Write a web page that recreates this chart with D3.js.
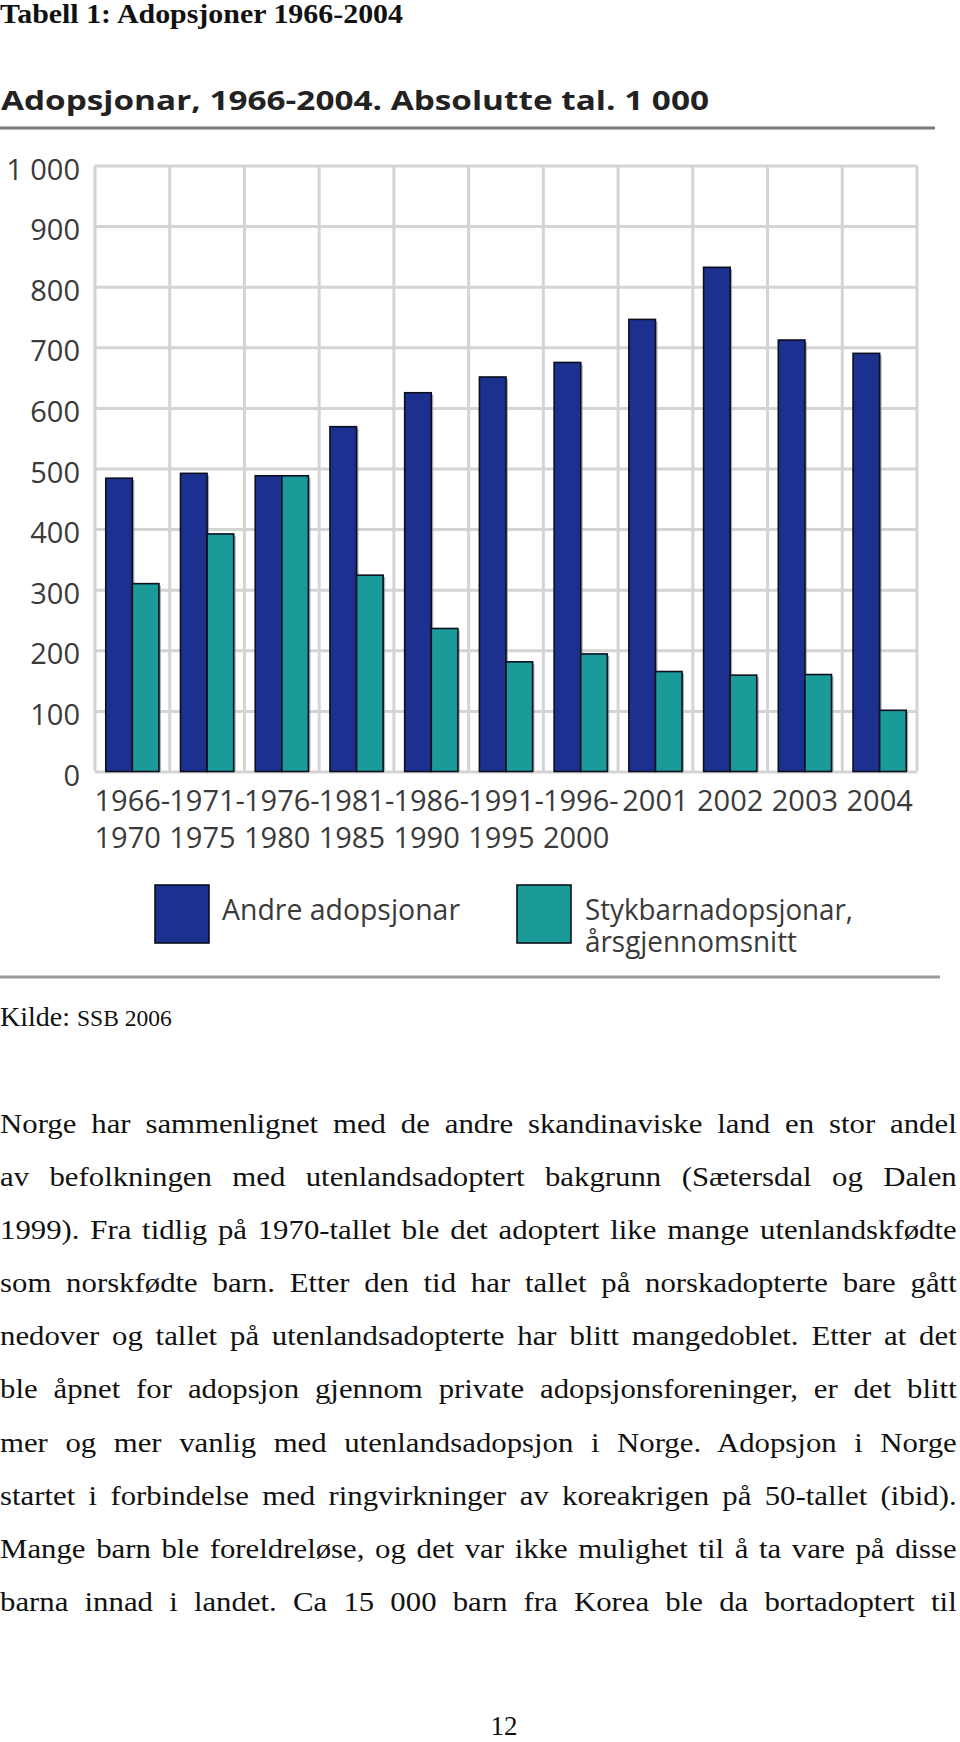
<!DOCTYPE html>
<html>
<head>
<meta charset="utf-8">
<script src="https://cdn.jsdelivr.net/npm/d3@7"></script>
<style>
  html, body { margin: 0; padding: 0; background: #fff; }
  svg { display: block; }
</style>
</head>
<body>
<svg id="page" width="960" height="1742"></svg>
<script>
// ---- Data ----
const categories = ["1966-1970","1971-1975","1976-1980","1981-1985","1986-1990","1991-1995","1996-2000","2001","2002","2003","2004"];
const seriesNames = ["Andre adopsjonar", "Stykbarnadopsjonar, årsgjennomsnitt"];
const andreAdopsjonar = [484, 492, 488, 569, 625, 651, 675, 746, 832, 712, 690];
const stykbarnAdopsjonar = [310, 392, 488, 324, 236, 181, 194, 165, 159, 160, 101];
const yTicks = [0, 100, 200, 300, 400, 500, 600, 700, 800, 900, 1000];
const yTickLabels = ["0","100","200","300","400","500","600","700","800","900","1 000"];

const pageTitle = "Tabell 1: Adopsjoner 1966-2004";
const chartTitle = "Adopsjonar, 1966-2004. Absolutte tal. 1 000";
const paragraph = [
  "Norge har sammenlignet med de andre skandinaviske land en stor andel",
  "av befolkningen med utenlandsadoptert bakgrunn (Sætersdal og Dalen",
  "1999). Fra tidlig på 1970-tallet ble det adoptert like mange utenlandskfødte",
  "som norskfødte barn. Etter den tid har tallet på norskadopterte bare gått",
  "nedover og tallet på utenlandsadopterte har blitt mangedoblet. Etter at det",
  "ble åpnet for adopsjon gjennom private adopsjonsforeninger, er det blitt",
  "mer og mer vanlig med utenlandsadopsjon i Norge. Adopsjon i Norge",
  "startet i forbindelse med ringvirkninger av koreakrigen på 50-tallet (ibid).",
  "Mange barn ble foreldreløse, og det var ikke mulighet til å ta vare på disse",
  "barna innad i landet. Ca 15 000 barn fra Korea ble da bortadoptert til"
];

// ---- Layout ----
const svg = d3.select("#page");
const colors = ["#1c318f", "#1a9a98"];
const plot = {left: 95, right: 917, top: 165.5, bottom: 771.5};
const sansFont = "'Open Sans', 'Noto Sans', sans-serif";
const serifFont = "'Liberation Serif', 'DejaVu Serif', serif";
const gridColor = "#d4d4d4";

// Page heading
svg.append("text")
  .attr("x", 0).attr("y", 23)
  .attr("font-family", serifFont).attr("font-weight", "bold").attr("font-size", 27)
  .attr("textLength", 403).attr("lengthAdjust", "spacingAndGlyphs")
  .attr("fill", "#111")
  .text(pageTitle);

// Chart title
svg.append("text")
  .attr("x", 1).attr("y", 110)
  .attr("font-family", sansFont).attr("font-weight", 700).attr("font-size", 27)
  .attr("textLength", 708).attr("lengthAdjust", "spacingAndGlyphs")
  .attr("fill", "#222")
  .text(chartTitle);
svg.append("line").attr("x1", 0).attr("x2", 935).attr("y1", 128).attr("y2", 128)
  .attr("stroke", "#7a7a7a").attr("stroke-width", 3);

// Scales
const x0 = d3.scaleBand().domain(categories).range([plot.left, plot.right]).padding(0);
const x1 = d3.scaleBand().domain(seriesNames).range([0, x0.bandwidth()]).paddingInner(0).paddingOuter(0.405);
const y = d3.scaleLinear().domain([0, 1000]).range([plot.bottom, plot.top]);

// Horizontal gridlines
svg.append("g")
  .attr("transform", `translate(${plot.left},0)`)
  .call(d3.axisLeft(y).tickValues(yTicks).tickSize(-(plot.right - plot.left)).tickFormat(""))
  .call(g => g.select(".domain").remove())
  .call(g => g.selectAll(".tick line").attr("stroke", gridColor).attr("stroke-width", 3));

// Vertical gridlines
const vLines = categories.map(c => x0(c)).concat([plot.right]);
svg.append("g").selectAll("line").data(vLines).join("line")
  .attr("x1", d => d).attr("x2", d => d)
  .attr("y1", plot.top).attr("y2", plot.bottom)
  .attr("stroke", gridColor).attr("stroke-width", 3);

// Y axis labels
svg.append("g")
  .attr("transform", `translate(${plot.left},0)`)
  .call(d3.axisLeft(y).tickValues(yTicks).tickSize(0).tickPadding(15)
        .tickFormat((d, i) => yTickLabels[i]))
  .call(g => g.select(".domain").remove())
  .call(g => g.selectAll("text")
      .attr("font-family", sansFont).attr("font-size", 29)
      .attr("fill", "#3a3a3a").attr("dy", "0.47em"));

// Bars
const rows = categories.map((c, i) => ({cat: c, vals: [andreAdopsjonar[i], stykbarnAdopsjonar[i]]}));
const groups = svg.append("g").selectAll("g").data(rows).join("g")
  .attr("transform", d => `translate(${x0(d.cat)},0)`);
groups.selectAll("rect.shadow").data(d => d.vals.map((v, k) => ({k, v}))).join("rect")
  .attr("class", "shadow")
  .attr("x", d => x1(seriesNames[d.k]) + 2)
  .attr("y", d => y(d.v) + 2)
  .attr("width", x1.bandwidth())
  .attr("height", d => y(0) - y(d.v) - 2)
  .attr("fill", "#8f8f8f").attr("opacity", 0.7);
groups.selectAll("rect.bar").data(d => d.vals.map((v, k) => ({k, v}))).join("rect")
  .attr("class", "bar")
  .attr("x", d => x1(seriesNames[d.k]))
  .attr("y", d => y(d.v))
  .attr("width", x1.bandwidth())
  .attr("height", d => y(0) - y(d.v))
  .attr("fill", d => colors[d.k])
  .attr("stroke", "#0b0f1e").attr("stroke-width", 1.6);

// X axis labels (two lines, left-aligned in a centred block)
const xl = svg.append("g");
categories.forEach(c => {
  const parts = c.split("-");
  const lines = parts.length > 1 ? [parts[0] + "-", parts[1]] : [parts[0]];
  const cx = x0(c) + x0.bandwidth() / 2;
  const texts = lines.map((t, li) => xl.append("text")
    .attr("y", li === 0 ? 811 : 848)
    .attr("font-family", sansFont).attr("font-size", 29)
    .attr("fill", "#3a3a3a")
    .text(t));
  const w = d3.max(texts, t => t.node().getComputedTextLength());
  texts.forEach(t => t.attr("x", cx - w / 2));
});

// Legend
const legend = [
  {lines: ["Andre adopsjonar"], sx: 155, tx: 222, widths: [238]},
  {lines: ["Stykbarnadopsjonar,", "årsgjennomsnitt"], sx: 517, tx: 585, widths: [268, 212]}
];
legend.forEach((l, i) => {
  svg.append("rect").attr("x", l.sx).attr("y", 885).attr("width", 54).attr("height", 58)
    .attr("fill", colors[i]).attr("stroke", "#0b0f1e").attr("stroke-width", 1.6);
  l.lines.forEach((t, li) => {
    svg.append("text").attr("x", l.tx).attr("y", 920 + li * 32)
      .attr("font-family", sansFont).attr("font-size", 29).attr("fill", "#3a3a3a")
      .attr("textLength", l.widths[li]).attr("lengthAdjust", "spacingAndGlyphs")
      .text(t);
  });
});
svg.append("line").attr("x1", 0).attr("x2", 940).attr("y1", 977).attr("y2", 977)
  .attr("stroke", "#9a9a9a").attr("stroke-width", 3);

// Source
const src = svg.append("text").attr("x", 0).attr("y", 1026)
  .attr("font-family", serifFont).attr("fill", "#111");
src.append("tspan").attr("font-size", 28).text("Kilde: ");
src.append("tspan").attr("font-size", 23.5).text("SSB 2006");

// Paragraph (justified); glyphs widened slightly so the tightest line fills the measure
const lineW = 957;
const pEls = paragraph.map((t, i) => svg.append("text").attr("x", 0).attr("y", 1133 + i * 53.1)
    .attr("font-family", serifFont).attr("font-size", 27.5).attr("fill", "#111")
    .text(t));
const nats = pEls.map(e => e.node().getComputedTextLength());
const sx = Math.min(1.12, lineW / d3.max(nats) * 0.995);
pEls.forEach((el, i) => {
  const t = paragraph[i];
  const target = lineW / sx;
  const spaces = (t.match(/ /g) || []).length;
  el.attr("transform", `scale(${sx},1)`);
  if (nats[i] < target && spaces > 0) {
    el.attr("word-spacing", (target - nats[i]) / spaces);
  } else {
    el.attr("textLength", target).attr("lengthAdjust", "spacingAndGlyphs");
  }
});

// Page number
svg.append("text").attr("x", 504).attr("y", 1735).attr("text-anchor", "middle")
  .attr("font-family", serifFont).attr("font-size", 27).attr("fill", "#111")
  .text("12");
</script>
</body>
</html>
